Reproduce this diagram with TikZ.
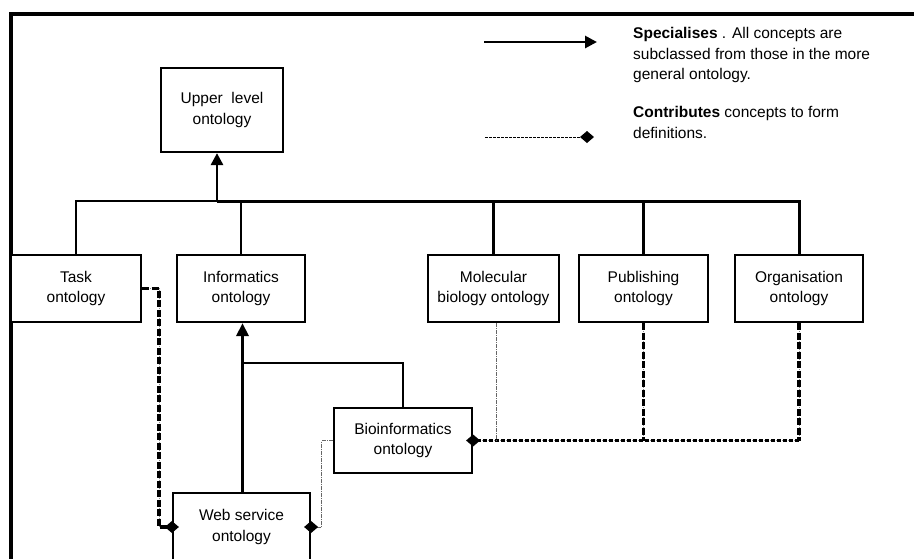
\documentclass[tikz,border=0pt]{standalone}
\usepackage{fontspec}
\setmainfont{Liberation Sans}
\usetikzlibrary{arrows.meta}
\begin{document}
\begin{tikzpicture}[x=1pt,y=-1pt,
  txt/.style={font=\fontsize{15.5}{20.5}\selectfont},
  box/.style={txt, draw, line width=2.2pt, fill=white, align=center, inner sep=0pt},
  frame/.style={line width=3.2pt},
  link/.style={line width=2.2pt},
  spec/.style={line width=2.8pt, -{Triangle[length=12pt,width=12pt]}},
  thickc/.style={line width=3.4pt, dash pattern=on 7pt off 2.5pt,
    preaction={draw, black!45, line width=1pt, dash pattern=on 1pt off 1pt}},
  medc/.style={line width=2.2pt, dash pattern=on 4pt off 2pt,
    preaction={draw, black!45, line width=1pt, dash pattern=on 1pt off 1pt}},
  thinc/.style={line width=0.9pt, black!60, dash pattern=on 4pt off 1pt on 1pt off 1pt},
  dmd/.pic={\fill (-7,0) -- (0,-6) -- (7,0) -- (0,6) -- cycle;}
]
\useasboundingbox (0,0) rectangle (914,558);
\clip (0,0) rectangle (914,558);

% outer frame (top and left edges)
\draw[frame] (11,560) -- (11,14) -- (916,14);

% legend
\coordinate (ls1) at (484,42);
\coordinate (ls2) at (597,42);
\draw[spec] (ls1) -- (ls2);
\node[txt, anchor=north west, align=left, inner sep=0pt] (spectext) at (633,27.5)
  {\textbf{Specialises} . All concepts are\\subclassed from those in the more\\general ontology.};
\coordinate (lc1) at (485,137);
\coordinate (lc2) at (587,137);
\draw[line width=1pt, dash pattern=on 3pt off 1pt] (lc1) -- (lc2);
\pic at (lc2) {dmd};
\node[txt, anchor=north west, align=left, inner sep=0pt] (contrtext) at (633,106.5)
  {\textbf{Contributes} concepts to form\\definitions.};

% ontologies
\node[box, minimum width=122pt, minimum height=84pt] (upper) at (222,110) {Upper\ \ level\\ontology};
\node[box, minimum width=130pt, minimum height=67pt] (task) at (76,288.5) {Task\\ontology};
\node[box, minimum width=128pt, minimum height=67pt] (info) at (241,288.5) {Informatics\\ontology};
\node[box, minimum width=131pt, minimum height=67pt] (mol) at (493.5,288.5) {Molecular\\biology ontology};
\node[box, minimum width=129pt, minimum height=67pt] (pub) at (643.5,288.5) {Publishing\\ontology};
\node[box, minimum width=128pt, minimum height=67pt] (org) at (799,288.5) {Organisation\\ontology};
\node[box, minimum width=138pt, minimum height=65pt] (bio) at (403,440.5) {Bioinformatics\\ontology};
\node[box, minimum width=137pt, minimum height=68pt] (web) at (241.5,527) {Web service\\ontology};

% specialisation tree below the upper level ontology
\coordinate (busU) at (217,201);
\draw[link] (task.north) |- (busU);
\draw[line width=3pt] (busU) -| (org.north);
\draw[link] (info.north) -- (info.north |- busU);
\draw[link] (mol.north) -- (mol.north |- busU);
\draw[link] (pub.north) -- (pub.north |- busU);
\draw[spec] (busU) -- (busU |- upper.south);

% specialisation of informatics
\coordinate (jInfo) at (242.5,363);
\draw[link] (web.north -| jInfo) -- (jInfo) -| (bio.north);
\draw[line width=3.8pt, -{Triangle[length=13pt,width=12pt]}] (jInfo) -- (jInfo |- info.south);

% contributions
\draw[thickc] (task.east) -- ++(17,0) |- (web.west);
\draw[thinc] (bio.west) -- ++(-11,0) |- (web.east);
\draw[medc] (org.south |- bio.east) -- (bio.east);
\draw[thinc] ([xshift=2.5pt]mol.south) -- ([xshift=2.5pt]mol.south |- bio.east);
\draw[thickc] (pub.south) -- (pub.south |- bio.east);
\draw[thickc] (org.south) -- (org.south |- bio.east);
\pic at (web.west) {dmd};
\pic at (web.east) {dmd};
\pic at (bio.east) {dmd};
\end{tikzpicture}
\end{document}
